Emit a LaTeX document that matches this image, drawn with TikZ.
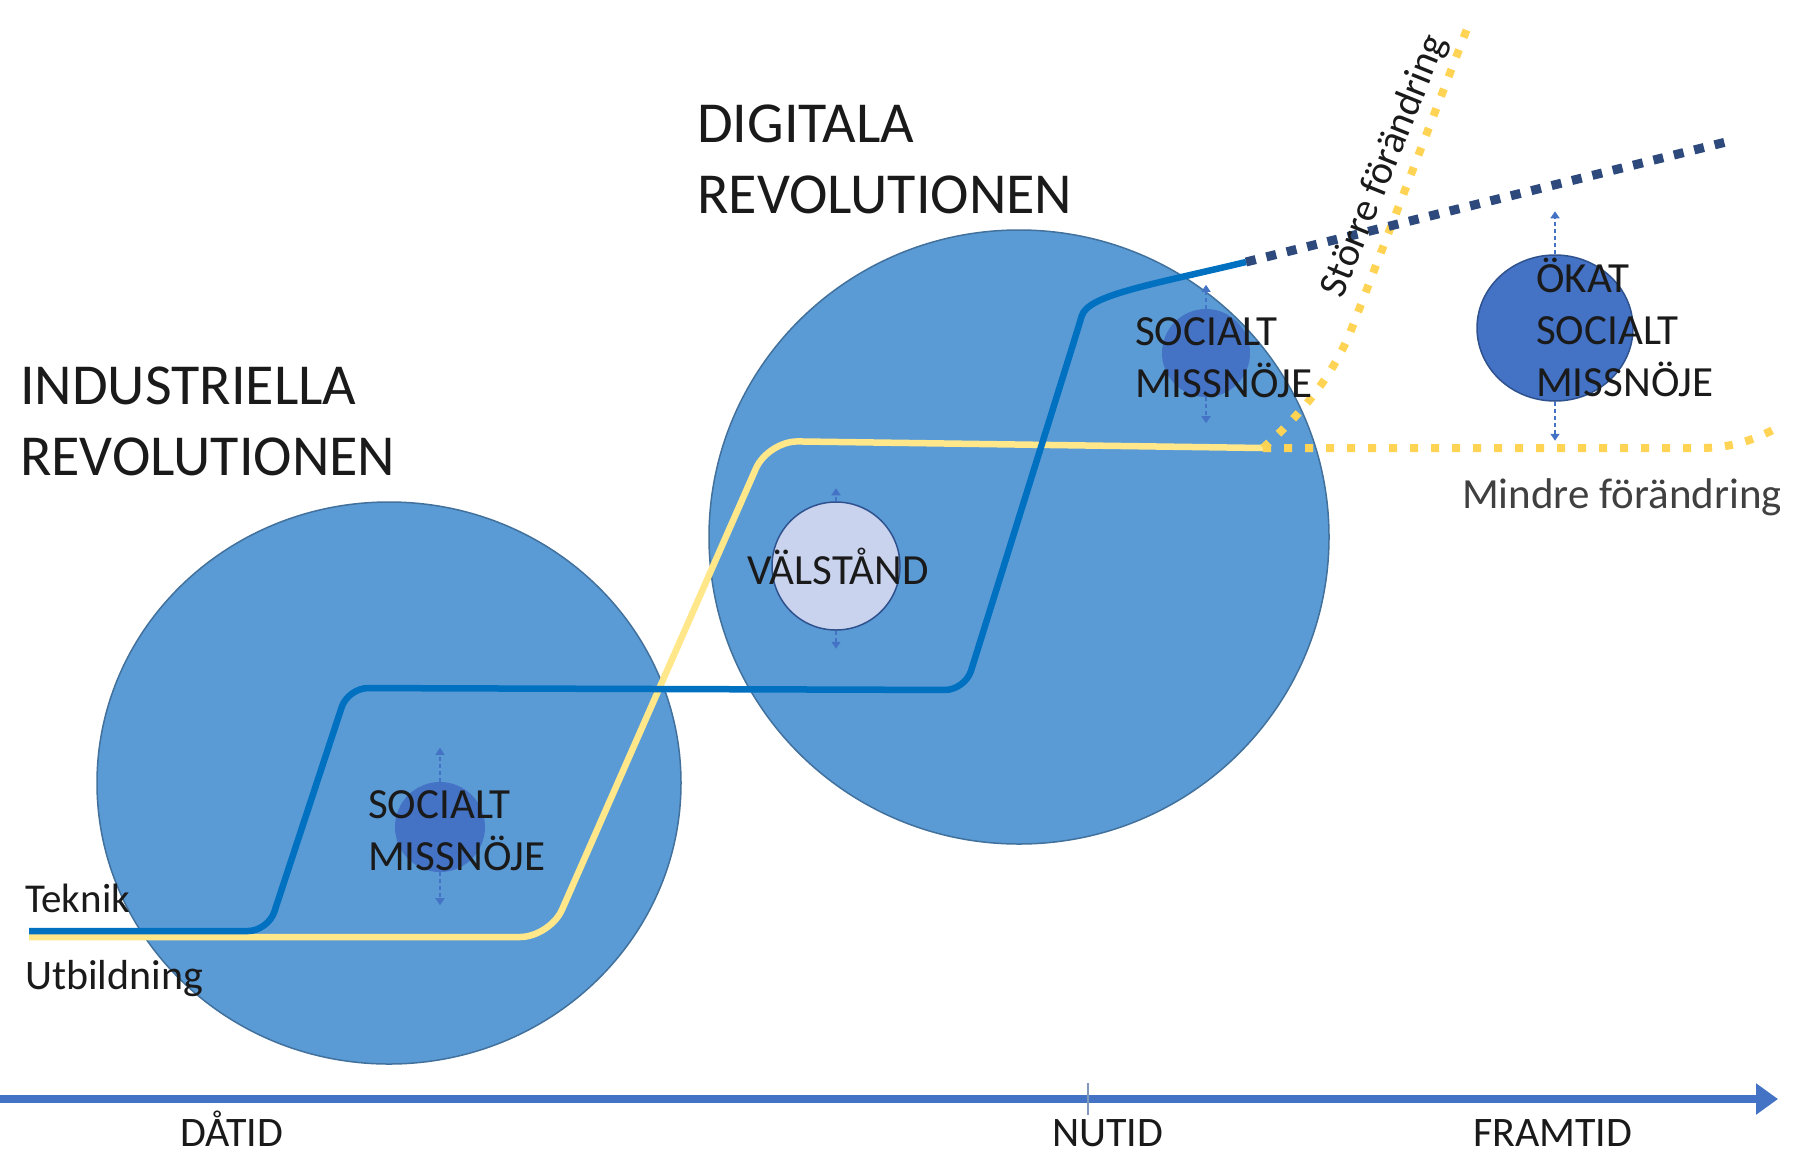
\documentclass[tikz,border=0pt]{standalone}
\usepackage{fontspec}
\setmainfont{Carlito}
\usepackage{tikz}
\usetikzlibrary{shapes.geometric, arrows.meta}
\definecolor{ringblue}{HTML}{5B9BD5}
\definecolor{ringedge}{HTML}{41719C}
\definecolor{missblue}{HTML}{4472C4}
\definecolor{missedge}{HTML}{2F528F}
\definecolor{welfill}{HTML}{C9D3EE}
\definecolor{tekblue}{HTML}{0070C0}
\definecolor{teknavy}{HTML}{2E4A7D}
\definecolor{utbpale}{HTML}{FFE78A}
\definecolor{utbgold}{HTML}{FFD455}
\definecolor{inktext}{HTML}{1A1A1A}
\definecolor{graytext}{HTML}{404040}
\tikzstyle{ring} = [ellipse, fill=ringblue, draw=ringedge, line width=1.5pt, inner sep=0pt]
\tikzstyle{missring} = [ellipse, fill=missblue, inner sep=0pt]
\tikzstyle{vertarrow} = [-{Triangle[width=9pt,length=7pt]}, draw=missblue, line width=1.5pt, dash pattern=on 4pt off 3pt]
\tikzstyle{head} = [anchor=base west, align=left, inner sep=0pt, text=inktext, font=\fontsize{58}{71}\selectfont]
\tikzstyle{lbl} = [anchor=base west, align=left, inner sep=0pt, text=inktext, font=\fontsize{43}{52}\selectfont]
\tikzstyle{timelbl} = [anchor=base west, inner sep=0pt, text=inktext, font=\fontsize{42}{50}\selectfont]
\tikzstyle{tekline} = [draw=tekblue, line width=6.5pt]
\tikzstyle{utbline} = [draw=utbpale, line width=6.5pt]
\tikzstyle{tekdots} = [draw=teknavy, line width=9pt, dash pattern=on 10pt off 11pt]
\tikzstyle{utbdots} = [draw=utbgold, line width=8pt, dash pattern=on 8pt off 13pt]

\begin{document}
\begin{tikzpicture}[x=1pt,y=-1pt]
\useasboundingbox (0,0) rectangle (1801,1152);
\fill[white] (0,0) rectangle (1801,1152);
\begin{scope}
\clip (0,0) rectangle (1779,1152);
\node[ring, minimum width=584pt, minimum height=562pt] (indring) at (389,783) {};
\node[ring, minimum width=620pt, minimum height=614pt] (digring) at (1019,537) {};
\node[missring, minimum width=90pt, minimum height=90pt] (indmiss) at (440,827) {};
\node[missring, minimum width=88pt, minimum height=88pt] (digmiss) at (1206,353) {};
\node[ellipse, fill=welfill, draw=missedge, line width=1.5pt, inner sep=0pt, minimum width=128pt, minimum height=128pt] (welring) at (836,566) {};
\node[missring, draw=missedge, line width=1.5pt, minimum width=156pt, minimum height=146pt] (okatring) at (1555,328) {};
\draw[vertarrow] (indmiss.north) -- ++(0,-34);
\draw[vertarrow] (indmiss.south) -- ++(0,33);
\draw[vertarrow] (digmiss.north) -- ++(0,-24);
\draw[vertarrow] (digmiss.south) -- ++(0,26);
\draw[vertarrow] (welring.north) -- ++(0,-13);
\draw[vertarrow] (welring.south) -- ++(0,18);
\draw[vertarrow] (okatring.north) -- ++(0,-43);
\draw[vertarrow] (okatring.south) -- ++(0,39);
\coordinate (utb0) at (29,937);
\coordinate (utb1) at (1263,448);
\coordinate (utbmore) at (1470,21);
\coordinate (utbless) at (1795,418);
\coordinate (tek0) at (29,931);
\coordinate (tek1) at (1246,262);
\coordinate (tek2) at (1734,140);
\draw[utbline, rounded corners=30pt] (utb0) -- (550,937) -- (768,441) -- (utb1);
\draw[utbdots] (utb1) -- (1700,448) .. controls (1740,448) and (1765,435) .. (utbless);
\draw[utbdots] (utb1) .. controls (1300,415) and (1330,380) .. (1350,333) -- (utbmore);
\draw[tekline, rounded corners=20pt] (tek0) -- (268,931) -- (348,688) -- (965,690) -- (1076,335) .. controls (1088,295) and (1150,285) .. (tek1);
\draw[tekdots] (tek1) -- (tek2);
\node[head] (indhead) at (20,475) {INDUSTRIELLA\\REVOLUTIONEN};
\node[head] (dighead) at (697,213) {DIGITALA\\REVOLUTIONEN};
\node[lbl] (indmisstxt) at (368,870) {SOCIALT\\MISSNÖJE};
\node[lbl] (weltxt) at (747,584) {VÄLSTÅND};
\node[lbl] (digmisstxt) at (1135,397) {SOCIALT\\MISSNÖJE};
\node[lbl] (okattxt) at (1536,396) {ÖKAT\\SOCIALT\\MISSNÖJE};
\node[lbl, font=\fontsize{41}{49}\selectfont] (tektxt) at (25,912) {Teknik};
\node[lbl, font=\fontsize{42}{50}\selectfont] (utbtxt) at (25,989) {Utbildning};
\node[inner sep=0pt, text=inktext, font=\fontsize{40}{48}\selectfont, rotate=68] (moretxt) at (1385,166) {Större förändring};
\node[lbl, text=graytext] (lesstxt) at (1462,508) {Mindre förändring};
\coordinate (tstart) at (0,1099);
\coordinate (tend) at (1778,1099);
\coordinate (nowpt) at (1088,1099);
\draw[-{Triangle[width=30pt,length=22pt]}, draw=missblue, fill=missblue, line width=8pt] (tstart) -- (tend);
\draw[draw=missedge!60, line width=1.2pt] ([yshift=16pt]nowpt) -- ([yshift=-16pt]nowpt);
\node[timelbl] (pasttxt) at (180,1146) {DÅTID};
\node[timelbl] (nowtxt) at (1052,1146) {NUTID};
\node[timelbl] (futtxt) at (1473,1146) {FRAMTID};
\end{scope}
\end{tikzpicture}
\end{document}
